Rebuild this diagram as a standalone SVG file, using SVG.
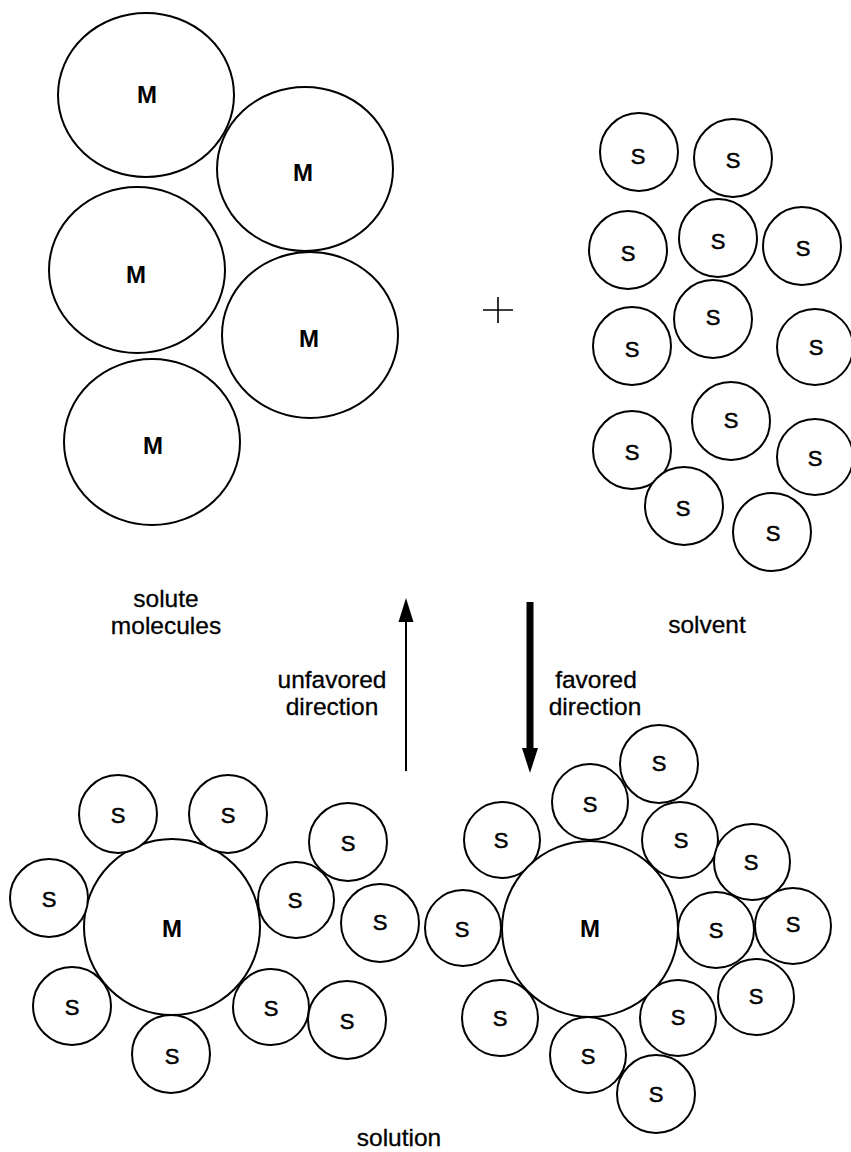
<svg xmlns="http://www.w3.org/2000/svg" width="851" height="1152" viewBox="0 0 851 1152">
<style>
.c{fill:#fff;stroke:#000;stroke-width:2}
.m{font-family:"Liberation Sans",Arial,sans-serif;font-weight:bold;font-size:24px;text-anchor:middle}
.s{font-family:"Liberation Sans",Arial,sans-serif;font-size:22px;text-anchor:middle;stroke:#000;stroke-width:0.5}
.t{font-family:"Liberation Sans",Arial,sans-serif;font-size:24.5px;text-anchor:middle;stroke:#000;stroke-width:0.3}
</style>
<rect width="851" height="1152" fill="#fff"/>
<g id="solute">
<g id="m1"><ellipse class="c" cx="146" cy="95" rx="88" ry="82"/><text class="m" x="147" y="103">M</text></g>
<g id="m2"><ellipse class="c" cx="305" cy="169" rx="88" ry="82"/><text class="m" x="303" y="181">M</text></g>
<g id="m3"><ellipse class="c" cx="137" cy="270" rx="88" ry="83"/><text class="m" x="136" y="283">M</text></g>
<g id="m4"><ellipse class="c" cx="310" cy="335" rx="88" ry="83"/><text class="m" x="309" y="347">M</text></g>
<g id="m5"><ellipse class="c" cx="152" cy="442" rx="88" ry="83"/><text class="m" x="153" y="454">M</text></g>
</g>
<g id="plus"><path d="M483 310H513M498 297V323" stroke="#000" stroke-width="1.6" fill="none"/></g>
<g id="solvent">
<g id="s1"><circle class="c" cx="639" cy="152" r="39"/><text class="s" x="638" y="164">S</text></g>
<g id="s2"><circle class="c" cx="733" cy="158" r="39"/><text class="s" x="733" y="168">S</text></g>
<g id="s3"><circle class="c" cx="628" cy="250" r="39"/><text class="s" x="628" y="261">S</text></g>
<g id="s4"><circle class="c" cx="718" cy="238" r="39"/><text class="s" x="718" y="249">S</text></g>
<g id="s5"><circle class="c" cx="802" cy="246" r="39"/><text class="s" x="803" y="256">S</text></g>
<g id="s6"><circle class="c" cx="713" cy="319" r="39"/><text class="s" x="713" y="325">S</text></g>
<g id="s7"><circle class="c" cx="632" cy="346" r="39"/><text class="s" x="632" y="357">S</text></g>
<g id="s8"><circle class="c" cx="815" cy="347" r="38"/><text class="s" x="816" y="355">S</text></g>
<g id="s9"><circle class="c" cx="731" cy="421" r="39"/><text class="s" x="731" y="428">S</text></g>
<g id="s10"><circle class="c" cx="632" cy="450" r="39"/><text class="s" x="632" y="460">S</text></g>
<g id="s11"><circle class="c" cx="815" cy="457" r="38"/><text class="s" x="815" y="466">S</text></g>
<g id="s12"><circle class="c" cx="684" cy="506" r="39"/><text class="s" x="683" y="516">S</text></g>
<g id="s13"><circle class="c" cx="772" cy="532" r="39"/><text class="s" x="773" y="541">S</text></g>
</g>
<g id="solutionLeft">
<g id="lm"><circle class="c" cx="172" cy="927" r="88"/><text class="m" x="172" y="937">M</text></g>
<g id="l1"><circle class="c" cx="118" cy="814" r="39"/><text class="s" x="118" y="823">S</text></g>
<g id="l2"><circle class="c" cx="228" cy="814" r="39"/><text class="s" x="228" y="823">S</text></g>
<g id="l3"><circle class="c" cx="348" cy="842" r="39"/><text class="s" x="348" y="851">S</text></g>
<g id="l4"><circle class="c" cx="49" cy="898" r="39"/><text class="s" x="49" y="907">S</text></g>
<g id="l5"><circle class="c" cx="296" cy="900" r="38"/><text class="s" x="295" y="908">S</text></g>
<g id="l6"><circle class="c" cx="380" cy="923" r="39"/><text class="s" x="380" y="930">S</text></g>
<g id="l7"><circle class="c" cx="72" cy="1006" r="39"/><text class="s" x="72" y="1015">S</text></g>
<g id="l8"><circle class="c" cx="271" cy="1007" r="38"/><text class="s" x="271" y="1016">S</text></g>
<g id="l9"><circle class="c" cx="347" cy="1020" r="39"/><text class="s" x="347" y="1029">S</text></g>
<g id="l10"><circle class="c" cx="171" cy="1054" r="39"/><text class="s" x="172" y="1064">S</text></g>
</g>
<g id="solutionRight">
<g id="r1"><circle class="c" cx="659" cy="764" r="39"/><text class="s" x="659" y="771">S</text></g>
<g id="r2"><circle class="c" cx="590" cy="802" r="38"/><text class="s" x="590" y="812">S</text></g>
<g id="r3"><circle class="c" cx="502" cy="840" r="38"/><text class="s" x="501" y="848">S</text></g>
<g id="r4"><circle class="c" cx="680" cy="840" r="38"/><text class="s" x="681" y="848">S</text></g>
<g id="r5"><circle class="c" cx="752" cy="862" r="38"/><text class="s" x="751" y="870">S</text></g>
<g id="r6"><circle class="c" cx="463" cy="928" r="38"/><text class="s" x="462" y="937">S</text></g>
<g id="rm"><circle class="c" cx="590" cy="929" r="88"/><text class="m" x="590" y="937">M</text></g>
<g id="r7"><circle class="c" cx="716" cy="930" r="38"/><text class="s" x="716" y="938">S</text></g>
<g id="r8"><circle class="c" cx="793" cy="926" r="38"/><text class="s" x="793" y="932">S</text></g>
<g id="r9"><circle class="c" cx="756" cy="997" r="38"/><text class="s" x="756" y="1004">S</text></g>
<g id="r10"><circle class="c" cx="500" cy="1018" r="38"/><text class="s" x="500" y="1026">S</text></g>
<g id="r11"><circle class="c" cx="678" cy="1018" r="38"/><text class="s" x="678" y="1025">S</text></g>
<g id="r12"><circle class="c" cx="588" cy="1055" r="38"/><text class="s" x="588" y="1064">S</text></g>
<g id="r13"><circle class="c" cx="656" cy="1094" r="39"/><text class="s" x="656" y="1102">S</text></g>
</g>
<g id="connectors">
<path d="M406 771V618" stroke="#000" stroke-width="2"/>
<polygon points="406,598 398.5,622 413.5,622"/>
<path d="M530 602V752" stroke="#000" stroke-width="7"/>
<polygon points="530,773 522,748 538,748"/>
</g>
<g id="labels">
<text class="t" x="166" y="607">solute</text>
<text class="t" x="166" y="634">molecules</text>
<text class="t" x="707" y="633">solvent</text>
<text class="t" x="332" y="688">unfavored</text>
<text class="t" x="332" y="715">direction</text>
<text class="t" x="596" y="688">favored</text>
<text class="t" x="595" y="715">direction</text>
<text class="t" x="399" y="1146">solution</text>
</g>
</svg>
